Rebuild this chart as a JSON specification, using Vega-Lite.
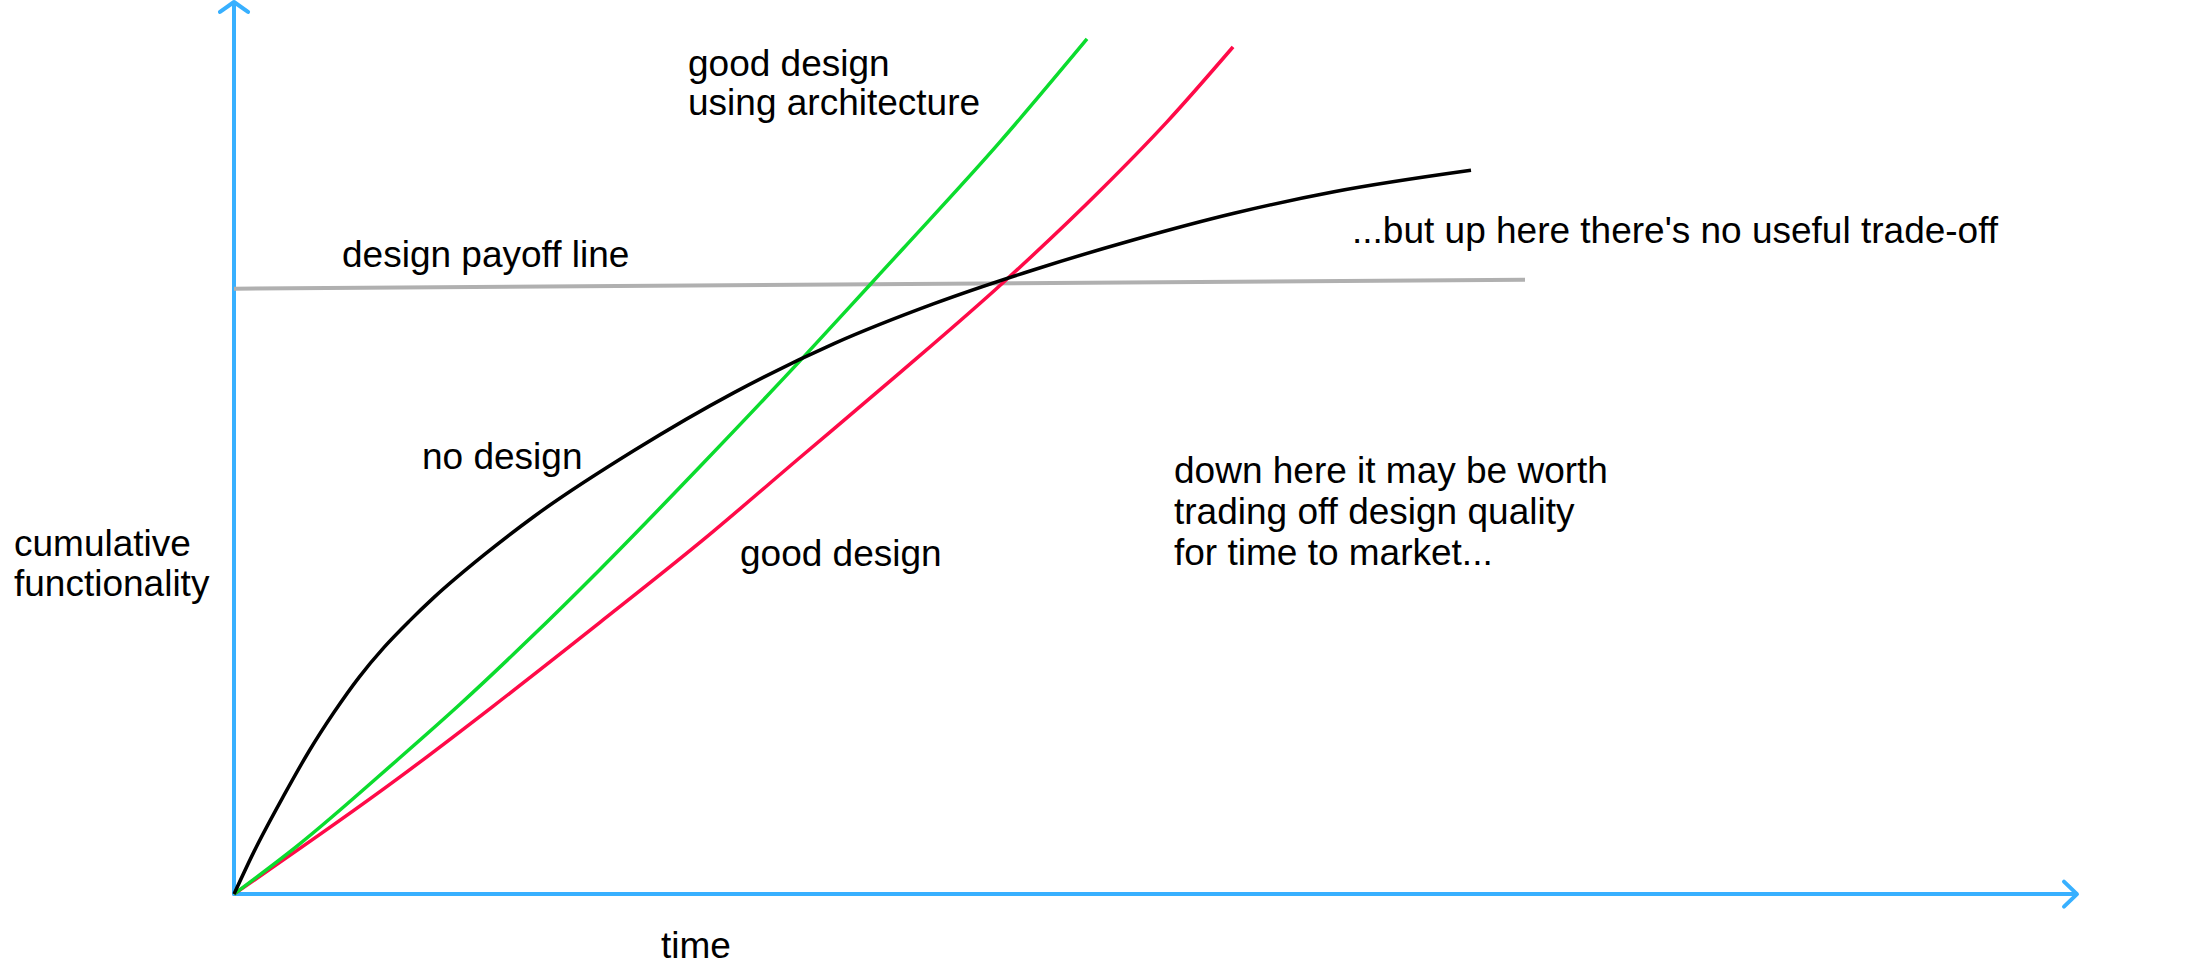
{
  "$schema": "https://vega.github.io/schema/vega-lite/v6.json",
  "width": 2186,
  "height": 979,
  "autosize": {"type": "fit", "contains": "padding"},
  "padding": 0,
  "background": "white",
  "config": {"view": {"stroke": null}},
  "datasets": {
    "axes": [
      {"part": "y-axis", "i": 0, "t": 0, "f": 0},
      {"part": "y-axis", "i": 1, "t": 0, "f": 89.2},
      {"part": "y-arrow", "i": 0, "t": -0.7, "f": 88.3},
      {"part": "y-arrow", "i": 1, "t": 0, "f": 89.3},
      {"part": "y-arrow", "i": 2, "t": 0.7, "f": 88.3},
      {"part": "x-axis", "i": 0, "t": 0, "f": 0},
      {"part": "x-axis", "i": 1, "t": 92.1, "f": 0},
      {"part": "x-arrow", "i": 0, "t": 91.5, "f": 1.25},
      {"part": "x-arrow", "i": 1, "t": 92.15, "f": 0},
      {"part": "x-arrow", "i": 2, "t": 91.5, "f": -1.25}
    ],
    "payoff": [
      {"series": "design payoff line", "t": 0, "f": 60.6},
      {"series": "design payoff line", "t": 64.55, "f": 61.5}
    ],
    "curves": [
      {"series": "good design", "t": 0, "f": 0},
      {"series": "good design", "t": 8.15, "f": 11.5},
      {"series": "good design", "t": 12.95, "f": 18.8},
      {"series": "good design", "t": 18.3, "f": 27.2},
      {"series": "good design", "t": 23.3, "f": 35.2},
      {"series": "good design", "t": 28.3, "f": 43.7},
      {"series": "good design", "t": 33.3, "f": 52.2},
      {"series": "good design", "t": 38.45, "f": 61.2},
      {"series": "good design", "t": 43.3, "f": 70.4},
      {"series": "good design", "t": 46.65, "f": 77.3},
      {"series": "good design", "t": 49.95, "f": 84.8},
      {"series": "good design using architecture", "t": 0, "f": 0},
      {"series": "good design using architecture", "t": 3.15, "f": 4.8},
      {"series": "good design using architecture", "t": 8.15, "f": 13.4},
      {"series": "good design using architecture", "t": 11.3, "f": 19.0},
      {"series": "good design using architecture", "t": 14.8, "f": 25.6},
      {"series": "good design using architecture", "t": 18.3, "f": 32.5},
      {"series": "good design using architecture", "t": 23.3, "f": 42.8},
      {"series": "good design using architecture", "t": 28.45, "f": 53.7},
      {"series": "good design using architecture", "t": 31.8, "f": 61.0},
      {"series": "good design using architecture", "t": 33.45, "f": 64.6},
      {"series": "good design using architecture", "t": 38.3, "f": 75.3},
      {"series": "good design using architecture", "t": 42.65, "f": 85.6},
      {"series": "no design", "t": 0, "f": 0},
      {"series": "no design", "t": 1, "f": 4.25},
      {"series": "no design", "t": 2.5, "f": 9.9},
      {"series": "no design", "t": 3.75, "f": 14.3},
      {"series": "no design", "t": 5, "f": 18.2},
      {"series": "no design", "t": 6.25, "f": 21.7},
      {"series": "no design", "t": 7.5, "f": 24.7},
      {"series": "no design", "t": 8.75, "f": 27.3},
      {"series": "no design", "t": 10, "f": 29.7},
      {"series": "no design", "t": 12.5, "f": 33.95},
      {"series": "no design", "t": 15, "f": 37.8},
      {"series": "no design", "t": 20, "f": 44.4},
      {"series": "no design", "t": 25, "f": 50.2},
      {"series": "no design", "t": 30, "f": 55.1},
      {"series": "no design", "t": 35, "f": 59.1},
      {"series": "no design", "t": 40, "f": 62.5},
      {"series": "no design", "t": 45, "f": 65.5},
      {"series": "no design", "t": 50, "f": 68.15},
      {"series": "no design", "t": 55, "f": 70.3},
      {"series": "no design", "t": 61.85, "f": 72.45}
    ],
    "labels": [
      {"label": "good design", "t": 22.7, "f": 81.9},
      {"label": "using architecture", "t": 22.7, "f": 78.0},
      {"label": "design payoff line", "t": 5.4, "f": 62.8},
      {"label": "...but up here there's no useful trade-off", "t": 55.9, "f": 65.2},
      {"label": "no design", "t": 9.4, "f": 42.6},
      {"label": "good design", "t": 25.3, "f": 32.8},
      {"label": "down here it may be worth", "t": 47.0, "f": 41.2},
      {"label": "trading off design quality", "t": 47.0, "f": 37.0},
      {"label": "for time to market...", "t": 47.0, "f": 32.9},
      {"label": "cumulative", "t": -11.0, "f": 33.8},
      {"label": "functionality", "t": -11.0, "f": 29.8},
      {"label": "time", "t": 21.35, "f": -6.4}
    ]
  },
  "encoding": {
    "x": {"field": "t", "type": "quantitative", "scale": {"domain": [-11.7, 97.6], "nice": false, "zero": false}, "axis": null},
    "y": {"field": "f", "type": "quantitative", "scale": {"domain": [-8.5, 89.4], "nice": false, "zero": false}, "axis": null}
  },
  "layer": [
    {
      "data": {"name": "axes"},
      "mark": {"type": "line", "color": "#38b0ff", "strokeWidth": 4, "strokeCap": "round", "strokeJoin": "round"},
      "encoding": {"detail": {"field": "part"}, "order": {"field": "i", "type": "quantitative"}}
    },
    {
      "data": {"name": "payoff"},
      "mark": {"type": "line", "color": "#b0b0b0", "strokeWidth": 4},
      "encoding": {}
    },
    {
      "data": {"name": "curves"},
      "mark": {"type": "line", "strokeWidth": 3.5, "interpolate": "monotone", "strokeCap": "butt"},
      "encoding": {
        "color": {"field": "series", "type": "nominal", "scale": {"domain": ["good design", "good design using architecture", "no design"], "range": ["#ff0a48", "#0bdc2e", "#000000"]}, "legend": null}
      }
    },
    {
      "data": {"name": "labels"},
      "mark": {"type": "text", "align": "left", "baseline": "alphabetic", "font": "Liberation Sans", "fontSize": 37, "color": "#000000"},
      "encoding": {"text": {"field": "label"}}
    }
  ]
}
